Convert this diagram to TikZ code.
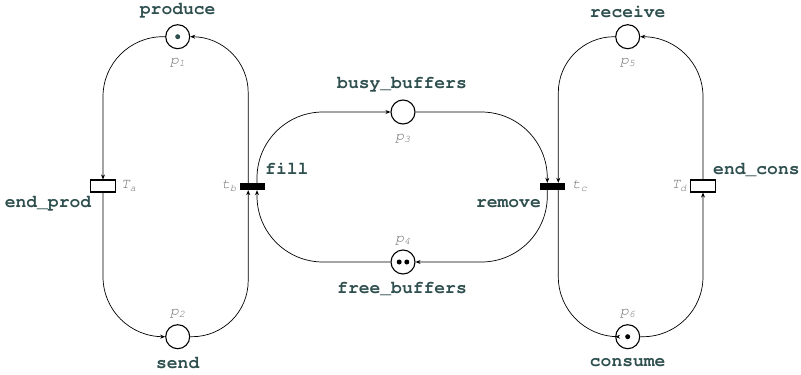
\documentclass[tikz,border=0pt]{standalone}
\usepackage{fontspec}
\setmonofont{Liberation Mono}
\usetikzlibrary{arrows.meta}
\definecolor{lbl}{HTML}{2F4F4F}
\definecolor{idc}{HTML}{6E6E6E}
\newcommand{\courb}{\fontencoding{T1}\fontfamily{pcr}\fontseries{b}\fontshape{n}\selectfont}
\newcommand{\couri}{\fontencoding{T1}\fontfamily{pcr}\fontseries{m}\fontshape{sl}\selectfont}
\tikzset{
  place/.style={circle,draw,line width=1.1pt,minimum size=24pt,inner sep=0pt},
  opentr/.style={rectangle,draw,line width=1.1pt,minimum width=25pt,minimum height=12pt,inner sep=0pt},
  filltr/.style={rectangle,fill=black,minimum width=25pt,minimum height=7pt,inner sep=0pt},
  name label/.style={font=\fontsize{18}{18}\courb,text=lbl,inner sep=0pt},
  id label/.style={font=\fontsize{14.5}{14.5}\couri,text=idc,inner sep=0pt},
  token/.style={circle,fill=black,minimum size=5pt,inner sep=0pt},
  arc/.style={line width=0.7pt,-{Stealth[length=5pt,width=4pt]}},
}
\newcommand{\sbs}[1]{\textsubscript{#1}}
\begin{document}
\begin{tikzpicture}[x=1pt,y=-1pt]
\useasboundingbox (0,0) rectangle (801,375);
% places
\node[place] (p1) at (177.7,36.7) {};
\node[place] (p2) at (177.7,336.7) {};
\node[place] (p3) at (403,112) {};
\node[place] (p4) at (403,262) {};
\node[place] (p5) at (627.7,36.7) {};
\node[place] (p6) at (627.7,336.7) {};
% tokens
\node[token,fill=lbl] (k1) at (p1.center) {};
\node[token] (k4a) at ([xshift=-3.8pt]p4.center) {};
\node[token] (k4b) at ([xshift=3.8pt]p4.center) {};
\node[token] (k6) at (p6.center) {};
% transitions
\node[opentr] (Ta) at (103,186) {};
\node[filltr] (tb) at (252.5,186.5) {};
\node[filltr] (tc) at (552.7,186.5) {};
\node[opentr] (Td) at (703,186) {};
% attachment points
\coordinate (tbNW) at ([xshift=-4.3pt]tb.north);
\coordinate (tbNE) at ([xshift=4.5pt]tb.north);
\coordinate (tbSW) at ([xshift=-4.3pt]tb.south);
\coordinate (tbSE) at ([xshift=4.5pt]tb.south);
\coordinate (tcNW) at ([xshift=-5.4pt]tc.north);
\coordinate (tcNE) at ([xshift=5.6pt]tc.north);
\coordinate (tcSW) at ([xshift=-5.4pt]tc.south);
\coordinate (tcSE) at ([xshift=5.6pt]tc.south);
% arcs
\draw[arc,rounded corners=60pt] (p1.west) -| (Ta.north);
\draw[arc,rounded corners=60pt] (Ta.south) |- (p2.west);
\draw[arc,rounded corners=56pt] (p2.east) -| (tbSW);
\draw[arc,rounded corners=56pt] (tbNW) |- (p1.east);
\draw[arc,rounded corners=66pt] (tbNE) |- (p3.west);
\draw[arc,rounded corners=66pt] (p3.east) -| (tcNW);
\draw[arc,rounded corners=66pt] (tcSW) |- (p4.east);
\draw[arc,rounded corners=66pt] (p4.west) -| (tbSE);
\draw[arc,rounded corners=56pt] (p5.west) -| (tcNE);
\draw[arc,rounded corners=60pt] (tcSE) |- (p6.west);
\draw[arc,rounded corners=60pt] (p6.east) -| (Td.south);
\draw[arc,rounded corners=60pt] (Td.north) |- (p5.east);
% name labels
\node[name label] (lp1) at (177.7,10) {produce};
\node[name label] (lp2) at (177.7,363) {send};
\node[name label] (lp3) at (402,84) {busy\_buffers};
\node[name label] (lp4) at (402,289) {free\_buffers};
\node[name label] (lp5) at (627.7,12) {receive};
\node[name label] (lp6) at (627.7,363) {consume};
\node[name label] (lTa) at (48,203) {end\_prod};
\node[name label,anchor=west] (ltb) at (265,168) {fill};
\node[name label,anchor=east] (ltc) at (541,204) {remove};
\node[name label,anchor=west] (lTd) at (713,170) {end\_cons};
% id labels
\node[id label] (ip1) at (177.7,62) {p\sbs{1}};
\node[id label] (ip2) at (177.7,313) {p\sbs{2}};
\node[id label] (ip3) at (403,138) {p\sbs{3}};
\node[id label] (ip4) at (403,240) {p\sbs{4}};
\node[id label] (ip5) at (627.7,62) {p\sbs{5}};
\node[id label] (ip6) at (627.7,313) {p\sbs{6}};
\node[id label,anchor=west] (iTa) at (121,186) {T\sbs{a}};
\node[id label,anchor=east] (itb) at (237,186) {t\sbs{b}};
\node[id label,anchor=west] (itc) at (572,186) {t\sbs{c}};
\node[id label,anchor=east] (iTd) at (687,186) {T\sbs{d}};
\end{tikzpicture}
\end{document}
